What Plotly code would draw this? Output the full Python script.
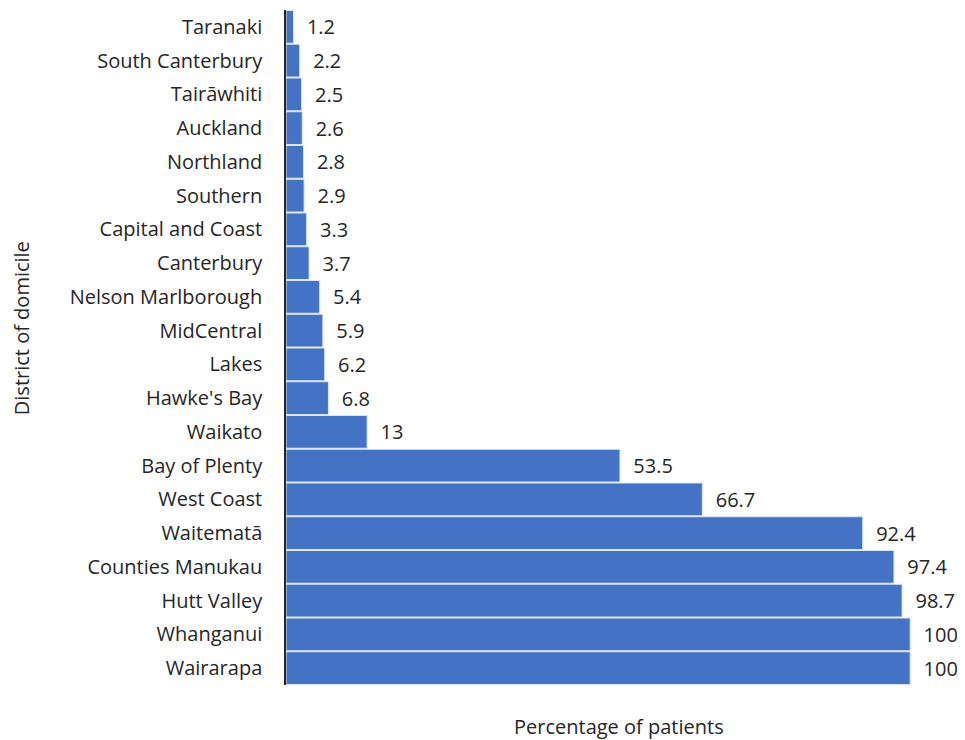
import plotly.graph_objects as go

districts = [
    "Taranaki", "South Canterbury", "Tairāwhiti", "Auckland", "Northland",
    "Southern", "Capital and Coast", "Canterbury", "Nelson Marlborough",
    "MidCentral", "Lakes", "Hawke's Bay", "Waikato", "Bay of Plenty",
    "West Coast", "Waitematā", "Counties Manukau", "Hutt Valley",
    "Whanganui", "Wairarapa",
]
percent = [1.2, 2.2, 2.5, 2.6, 2.8, 2.9, 3.3, 3.7, 5.4, 5.9, 6.2, 6.8, 13,
           53.5, 66.7, 92.4, 97.4, 98.7, 100, 100]
labels = ["1.2", "2.2", "2.5", "2.6", "2.8", "2.9", "3.3", "3.7", "5.4", "5.9",
          "6.2", "6.8", "13", "53.5", "66.7", "92.4", "97.4", "98.7", "100", "100"]

font_txt = "Open Sans, Calibri, sans-serif"
txt_col = "#262626"
fsize = 20

fig = go.Figure()
fig.add_trace(
    go.Bar(
        x=percent,
        y=districts,
        orientation="h",
        marker=dict(color="#4472C4", line=dict(color="#dce5f5", width=1)),
        text=labels,
        texttemplate="  %{text}",
        textposition="outside",
        textfont=dict(family=font_txt, size=fsize, color=txt_col),
        cliponaxis=False,
    )
)

# page body has an 8px margin, so the figure is sized to fill the rest
fig.update_layout(
    width=957,
    height=732,
    plot_bgcolor="white",
    paper_bgcolor="white",
    bargap=0.03,
    showlegend=False,
    margin=dict(l=278, r=13, t=2, b=55, autoexpand=False),
    font=dict(family=font_txt, size=fsize, color=txt_col),
    xaxis=dict(
        range=[0, 106.7],
        showticklabels=False,
        showgrid=False,
        zeroline=False,
        showline=False,
        fixedrange=True,
    ),
    yaxis=dict(
        autorange="reversed",
        showline=True,
        linecolor="#262626",
        linewidth=1.5,
        showgrid=False,
        ticks="",
        ticklabelstandoff=18,
        tickfont=dict(size=fsize, color=txt_col),
    ),
    annotations=[
        dict(text="Percentage of patients", xref="paper", yref="paper",
             x=0.5, y=-0.061, xanchor="center", yanchor="middle",
             showarrow=False, font=dict(size=fsize, color=txt_col)),
        dict(text="District of domicile", xref="paper", yref="paper",
             x=-0.396, y=0.529, xanchor="center", yanchor="middle",
             textangle=-90, showarrow=False,
             font=dict(size=fsize, color=txt_col)),
    ],
)

fig.write_html("out.html")
